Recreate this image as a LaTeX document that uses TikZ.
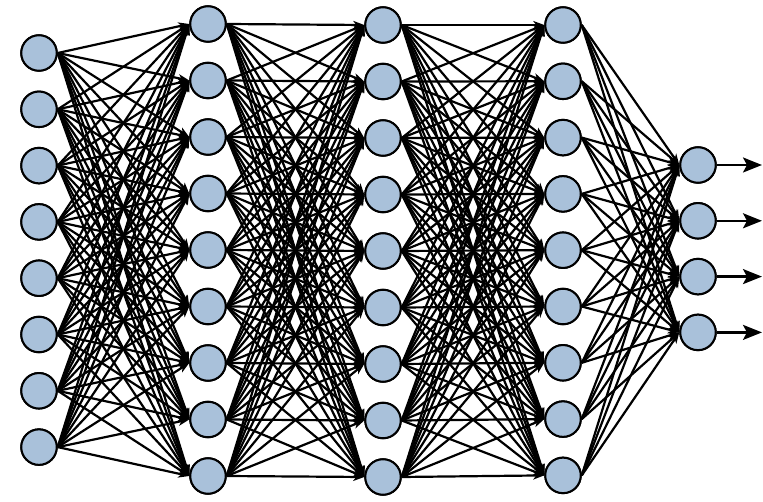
\documentclass[tikz,border=0pt]{standalone}
\usetikzlibrary{arrows.meta}
\definecolor{nodefill}{HTML}{A9C1DA}
\begin{document}
\begin{tikzpicture}[x=1pt,y=-1pt,
  neuron/.style={circle,draw=black,line width=2pt,fill=nodefill,minimum size=35.5pt,inner sep=0pt},
  conn/.style={line width=2.2pt,-{Stealth[length=11pt,width=8pt,inset=3pt]}},
  outarrow/.style={line width=2.4pt,-{Stealth[length=19pt,width=15pt,inset=4pt]}}]
\useasboundingbox (0,0) rectangle (763,502);
% layers
\foreach \i in {1,...,8} \node[neuron] (A\i) at (39,{53+(\i-1)*56.3}) {};
\foreach \i in {1,...,9} \node[neuron] (B\i) at (208,{24+(\i-1)*56.5}) {};
\foreach \i in {1,...,9} \node[neuron] (C\i) at (383,{25+(\i-1)*56.5}) {};
\foreach \i in {1,...,9} \node[neuron] (D\i) at (563,{25+(\i-1)*56.3}) {};
\foreach \i in {1,...,4} \node[neuron] (E\i) at (698,{165+(\i-1)*55.8}) {};
% connections
\foreach \i in {1,...,8} \foreach \j in {1,...,9} \draw[conn] (A\i.east) -- (B\j.west);
\foreach \i in {1,...,9} \foreach \j in {1,...,9} \draw[conn] (B\i.east) -- (C\j.west);
\foreach \i in {1,...,9} \foreach \j in {1,...,9} \draw[conn] (C\i.east) -- (D\j.west);
\foreach \i in {1,...,9} \foreach \j in {1,...,4} \draw[conn] (D\i.east) -- (E\j.west);
% redraw nodes on top
\foreach \i in {1,...,8} \node[neuron] at (A\i) {};
\foreach \i in {1,...,9} \node[neuron] at (B\i) {};
\foreach \i in {1,...,9} \node[neuron] at (C\i) {};
\foreach \i in {1,...,9} \node[neuron] at (D\i) {};
\foreach \i in {1,...,4} \node[neuron] at (E\i) {};
\foreach \i in {1,...,4} {
  \coordinate (O\i) at (762,{165+(\i-1)*55.8});
  \draw[outarrow] (E\i.east) -- (O\i);
}
\end{tikzpicture}
\end{document}
